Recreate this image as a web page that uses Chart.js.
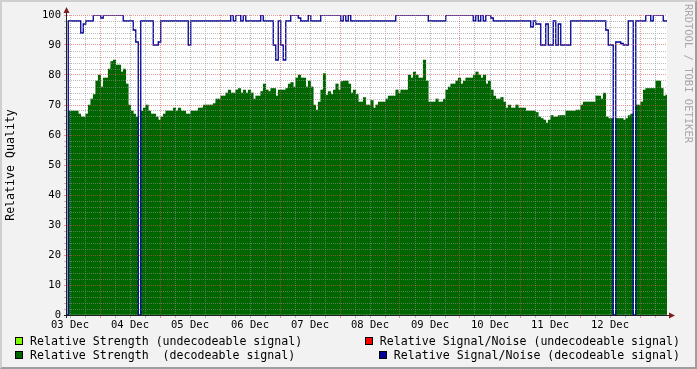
<!DOCTYPE html>
<html>
<head>
<meta charset="utf-8">
<script src="https://cdn.jsdelivr.net/npm/chart.js@4"></script>
<style>
  html, body { margin: 0; padding: 0; }
  body { width: 697px; height: 369px; position: relative; overflow: hidden; background: #f2f2f2; font-family: "DejaVu Sans Mono", monospace; }
  #frame { position: absolute; left: 0; top: 0; width: 697px; height: 369px; box-sizing: border-box; border-style: solid; border-width: 2px; border-color: #cfcfcf #9e9e9e #9e9e9e #cfcfcf; pointer-events: none; }
  canvas { position: absolute; left: 0; top: 0; }
  .leg { position: absolute; font-size: 11.6px; line-height: 14px; white-space: pre; color: #000; }
  .box { position: absolute; width: 6px; height: 6px; border: 1px solid #000; }
  #wm { position: absolute; left: 683px; top: 4px; writing-mode: vertical-rl; font-size: 10.5px; color: #a8a8a8; white-space: pre; }
</style>
</head>
<body>
<canvas id="chart" width="697" height="369"></canvas>
<div id="wm">RRDTOOL / TOBI OETIKER</div>

<div class="box" style="left:15px;top:337px;background:#7fff00"></div>
<div class="leg" style="left:30px;top:334px">Relative Strength (undecodeable signal)</div>
<div class="box" style="left:15px;top:351px;background:#006600"></div>
<div class="leg" style="left:30px;top:348px">Relative Strength  (decodeable signal)</div>
<div class="box" style="left:365px;top:337px;background:#ff0000"></div>
<div class="leg" style="right:17px;top:334px">Relative Signal/Noise (undecodeable signal)</div>
<div class="box" style="left:379px;top:351px;background:#000099"></div>
<div class="leg" style="right:17px;top:348px">Relative Signal/Noise (decodeable signal)</div>

<div id="frame"></div>

<script>
// one sample per hour, 03 Dec .. 13 Dec
const dayLabels = ['03 Dec', '04 Dec', '05 Dec', '06 Dec', '07 Dec', '08 Dec', '09 Dec', '10 Dec', '11 Dec', '12 Dec'];

// Relative Strength (decodeable signal)
const strength = [
  null, 68, 68, 68, 68, 67, 66, 66, 67, 70,
  72, 73.5, 78, 80, 76, 79, 79, 82, 84.5, 85,
  83.3, 83.3, 81, 82, 77, 70, 68, 67, 66, null,
  68, 69, 70, 68, 67, 67, 66, 65, 66, 67,
  68, 68, 68, 69, 68, 69, 68, 68, 67, 67,
  68, 68, 68, 69, 69, 70, 70, 70, 70, 70.5,
  72, 72, 73, 73, 74, 75, 74, 74, 75, 75.5,
  74, 75, 74, 75, 74, 72, 73, 73, 74.5, 77,
  75, 74.5, 75.5, 75.5, 73, 75, 75, 75, 75.5, 77,
  77.5, 76, 79, 80, 79, 79, 76, 78, 76, 70,
  68.3, 71, 75, 80.5, 73.3, 74.5, 73.5, 75, 77, 75,
  77.8, 78, 78, 77, 74, 75, 73.5, 71, 71, 72.5,
  70, 70, 71.5, 69, 70, 71, 71, 71, 72, 73,
  73, 73, 75, 74, 75, 75, 75, 80, 79, 81,
  80, 79, 79, 85, 78, 71, 71, 71, 72, 71,
  71, 72, 75, 76, 77, 77, 78, 79, 77, 78,
  79, 79, 79, 80, 81, 80, 79, 80, 77, 78,
  75, 73, 72, 72, 72.5, 71, 69, 70, 69, 69,
  70, 69, 69, 69, 68, 68, 68, 68, 67.5, 66,
  65.5, 65, 64, 65, 66.5, 66, 66, 66.5, 66.5, 66.5,
  68, 68, 68, 68, 68.3, 68.3, 70, 71, 71, 71,
  71, 71, 73, 73, 72, 74, 66, 65.5, 65.5, null,
  65.5, 65.5, 65.5, 65, 65.5, 66.5, 67, null, 70, 70,
  71, 75, 75.5, 75.5, 75.5, 75.5, 78, 78, 75.5, 73,
  73.3
];

// Relative Signal/Noise (decodeable signal)
const signalNoise = [
  0, 98, 98, 98, 98, 98, 94, 97, 98, 98,
  98, 100, 100, 100, 99, 100, 100, 100, 100, 100,
  100, 100, 100, 98, 98, 98, 98, 95, 91, 0,
  98, 98, 98, 98, 98, 90, 90, 91, 98, 98,
  98, 98, 98, 98, 98, 98, 98, 98, 98, 90,
  98, 98, 98, 98, 98, 98, 98, 98, 98, 98,
  98, 98, 98, 98, 98, 98, 100, 98, 100, 100,
  98, 100, 98, 98, 98, 98, 98, 98, 100, 98,
  98, 98, 98, 90, 85, 98, 90, 85, 98, 98,
  100, 100, 100, 99, 98, 98, 98, 100, 98, 98,
  98, 98, 100, 100, 100, 100, 100, 100, 100, 100,
  98, 100, 98, 100, 98, 98, 98, 98, 98, 98,
  98, 98, 98, 98, 98, 98, 98, 98, 98, 98,
  98, 98, 100, 100, 100, 100, 100, 100, 100, 100,
  100, 100, 100, 100, 100, 98, 98, 98, 98, 98,
  98, 98, 100, 100, 100, 100, 100, 100, 100, 100,
  100, 100, 100, 98, 100, 98, 100, 98, 100, 100,
  99, 98, 98, 98, 98, 98, 98, 98, 98, 98,
  98, 98, 98, 98, 98, 98, 96, 98, 97, 97,
  90, 90, 97, 90, 90, 98, 90, 97, 90, 90,
  90, 90, 98, 98, 98, 98, 98, 98, 98, 98,
  98, 98, 98, 98, 98, 98, 95, 90, 90, 0,
  91, 91, 90.5, 90, 90, 98, 98, 0, 98, 98,
  98, 98, 100, 100, 98, 100, 100, 100, 100, 98,
  98
];

const hours = strength.map((_, i) => i);

const GRID = 'rgba(143,143,143,0.6)';
const MGRID = 'rgba(222,79,79,0.6)';
const MONO = '"DejaVu Sans Mono", monospace';

Chart.defaults.font.family = MONO;
Chart.defaults.color = '#000';

const rrdFrame = {
  id: 'rrdFrame',
  beforeDraw(chart) {
    const { ctx, chartArea: a } = chart;
    ctx.save();
    ctx.fillStyle = '#ffffff';
    ctx.fillRect(a.left, a.top, a.right - a.left, a.bottom - a.top);
    ctx.restore();
  },
  afterDraw(chart) {
    const { ctx, chartArea: a } = chart;
    const x0 = a.left - 0.5, y0 = a.bottom + 0.5;
    ctx.save();
    ctx.strokeStyle = '#1f1f1f';
    ctx.lineWidth = 1;
    ctx.beginPath();
    ctx.moveTo(x0, a.bottom + 3);
    ctx.lineTo(x0, a.top - 2);
    ctx.moveTo(a.left - 3, y0);
    ctx.lineTo(a.right + 2, y0);
    ctx.stroke();
    ctx.fillStyle = '#801f1f';
    ctx.beginPath();
    ctx.moveTo(x0 - 3, a.top - 2);
    ctx.lineTo(x0 + 3, a.top - 2);
    ctx.lineTo(x0, a.top - 8);
    ctx.closePath();
    ctx.fill();
    ctx.beginPath();
    ctx.moveTo(a.right + 2, y0 - 3);
    ctx.lineTo(a.right + 2, y0 + 3);
    ctx.lineTo(a.right + 8, y0);
    ctx.closePath();
    ctx.fill();
    ctx.restore();
  }
};

new Chart(document.getElementById('chart'), {
  type: 'bar',
  data: {
    datasets: [{
      type: 'line',
      label: 'Relative Signal/Noise (decodeable signal)',
      data: hours.map((h, i) => ({ x: h, y: signalNoise[i] })),
      borderColor: '#000099',
      borderWidth: 1.3,
      stepped: 'middle',
      pointRadius: 0,
      fill: false,
      order: 1
    }, {
      type: 'bar',
      label: 'Relative Strength (decodeable signal)',
      data: hours.map((h, i) => ({ x: h, y: strength[i] })),
      backgroundColor: '#006600',
      borderWidth: 0,
      barPercentage: 1,
      categoryPercentage: 1,
      order: 2
    }]
  },
  options: {
    responsive: false,
    animation: false,
    devicePixelRatio: 1,
    layout: { padding: { top: 15, right: 30, left: 0, bottom: 0 } },
    plugins: { legend: { display: false }, tooltip: { enabled: false } },
    scales: {
      x: {
        type: 'linear',
        min: 0,
        max: 240,
        offset: false,
        afterBuildTicks(scale) {
          const t = [];
          for (let k = 0; k < 40; k++) t.push({ value: 1.2 + 6 * k });
          scale.ticks = t;
        },
        afterFit(scale) { scale.height = 54; },
        ticks: {
          autoSkip: false,
          maxRotation: 0,
          padding: 1,
          font: { size: 10.5 },
          callback: (v, i) => (i % 4 === 0 ? dayLabels[i / 4] : '')
        },
        grid: {
          offset: false,
          z: 1,
          tickLength: 3,
          color: c => (c.index % 4 === 2 ? MGRID : GRID)
        },
        border: { display: false, dash: [1, 1] }
      },
      y: {
        min: 0,
        max: 100,
        afterBuildTicks(scale) {
          const t = [];
          for (let v = 0; v <= 100; v += 2) t.push({ value: v });
          scale.ticks = t;
        },
        afterFit(scale) { scale.width = 67; },
        ticks: {
          autoSkip: false,
          padding: 3,
          font: { size: 10.5 },
          callback: v => (v % 10 === 0 ? String(v) : '')
        },
        grid: {
          z: 1,
          tickLength: 3,
          color: c => (c.tick && c.tick.value % 10 === 0 ? MGRID : GRID)
        },
        border: { display: false, dash: [1, 1] },
        title: {
          display: true,
          text: 'Relative Quality',
          font: { size: 11.6 },
          padding: { top: 4, bottom: 0 }
        }
      }
    }
  },
  plugins: [rrdFrame]
});
</script>
</body>
</html>
